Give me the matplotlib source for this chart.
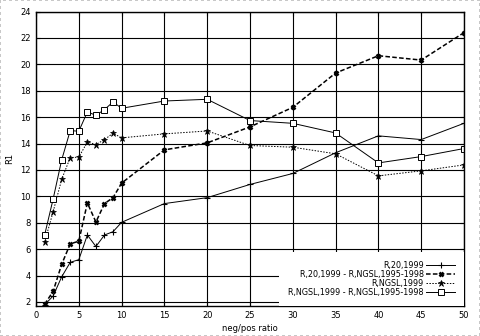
import matplotlib
matplotlib.use('Agg')
import matplotlib.pyplot as plt

# data
ratio = [1, 2, 3, 4, 5, 6, 7, 8, 9, 10, 15, 20, 25, 30, 35, 40, 45, 50]
r20 = [1.78, 2.45, 3.9, 5.0, 5.2, 7.07, 6.2, 7.07, 7.32, 8.03,
       9.45, 9.9, 10.9, 11.73, 13.3, 14.58, 14.3, 15.53]
r20_diff = [1.82, 2.8, 4.85, 6.4, 6.6, 9.5, 8.05, 9.45, 9.9, 11.0,
            13.52, 14.05, 15.26, 16.74, 19.34, 20.65, 20.32, 22.4]
ngsl = [6.52, 8.83, 11.28, 12.94, 12.96, 14.12, 13.92, 14.3, 14.78, 14.43,
        14.73, 14.95, 13.85, 13.72, 13.22, 11.55, 11.93, 12.38]
ngsl_diff = [7.05, 9.79, 12.76, 14.98, 14.93, 16.39, 16.14, 16.57, 17.15, 16.67,
             17.22, 17.35, 15.74, 15.53, 14.8, 12.53, 13.01, 13.62]

labels = ['R,20,1999', 'R,20,1999 - R,NGSL,1995-1998',
          'R,NGSL,1999', 'R,NGSL,1999 - R,NGSL,1995-1998']
xticks = list(range(0, 51, 5))
yticks = list(range(2, 25, 2))

plt.rcParams['font.family'] = 'DejaVu Sans'
fs = 6

fig = plt.figure(figsize=(4.8, 3.36), dpi=100)
fig.patch.set_edgecolor('#c8c8c8')
fig.patch.set_linewidth(1.5)
fig.patch.set_linestyle(':')
ax = fig.add_axes([36/480, 1-305.5/336, 428/480, 294/336])

ax.plot(ratio, r20, '-', color='k', lw=0.7, marker='+', ms=5, mew=0.8, label=labels[0])
ax.plot(ratio, r20_diff, color='k', lw=1.1, ls=(0, (3, 1.5)), marker='x', ms=3.5, mew=1.8,
        label=labels[1])
ax.plot(ratio, ngsl, color='k', lw=0.7, ls=(0, (1.5, 1.5)), marker='*', ms=4.5, mew=0.5,
        label=labels[2])
ax.plot(ratio, ngsl_diff, '-', color='k', lw=0.7, marker='s', ms=4, mfc='white', mew=0.7,
        label=labels[3])

ax.set_xlim(0, 50)
ax.set_ylim(1.73, 24)
ax.set_xticks(xticks)
ax.set_yticks(yticks)
ax.grid(True, color='k', lw=0.8)
ax.tick_params(direction='in', length=3, width=0.8, labelsize=fs, top=True, right=True,
               pad=4)
for s in ax.spines.values():
    s.set_linewidth(1.0)
ax.set_xlabel('neg/pos ratio', fontsize=fs, labelpad=3)
ax.set_ylabel('R1', fontsize=fs, labelpad=4)

leg = ax.legend(loc='lower right', markerfirst=False, fontsize=5.8, frameon=True,
                fancybox=False, framealpha=1, facecolor='white', edgecolor='none',
                handlelength=3.6, handletextpad=0.3, labelspacing=0.0,
                borderpad=1.1, borderaxespad=0)
for t in leg.get_texts():
    t.set_ha('right')

fig.savefig('out.png', dpi=100)
